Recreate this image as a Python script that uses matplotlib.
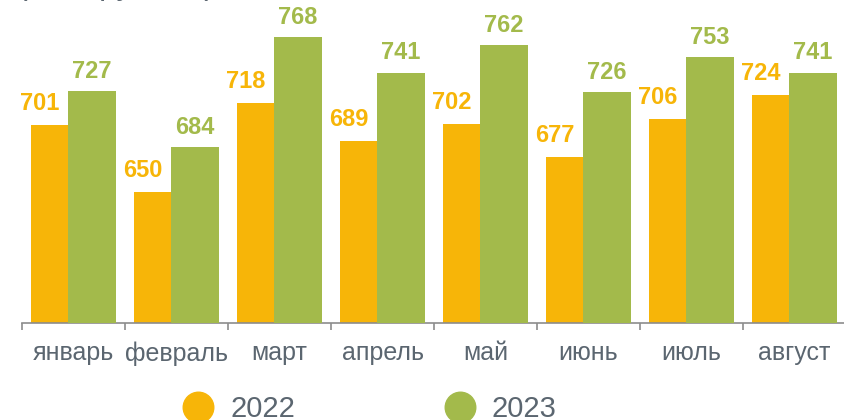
import matplotlib.pyplot as plt
from matplotlib.lines import Line2D
from matplotlib.ticker import FixedLocator
import numpy as np

plt.rcParams["font.family"] = ["Liberation Sans", "DejaVu Sans"]

months = ["январь", "февраль", "март", "апрель", "май", "июнь", "июль", "август"]
values_2022 = [701, 650, 718, 689, 702, 677, 706, 724]
values_2023 = [727, 684, 768, 741, 762, 726, 753, 741]
series_names = ["2022", "2023"]

ORANGE = "#F7B508"
GREEN = "#A3BA4B"
TEXT_GRAY = "#5B6670"
AXIS_GRAY = "#8C8C8C"

W, H = 844, 420
fig = plt.figure(figsize=(W / 100, H / 100), dpi=100)
# axis line sits at y=323 px; left edge of the category axis at x=22 px
ax = fig.add_axes([22 / W, (H - 323) / H, 824 / W, 323 / H])

x = np.arange(len(months))
bar_width = 0.466
offset = 0.18

ax.bar(x - offset, values_2022, width=bar_width, color=ORANGE, zorder=2)
ax.bar(x + offset, values_2023, width=bar_width, color=GREEN, zorder=3)

for xi, v in zip(x, values_2022):
    ax.annotate(str(v), xy=(xi - 0.33, v), xytext=(0, 7), textcoords="offset points",
                ha="center", va="bottom", fontsize=17, fontweight="bold", color=ORANGE)
for xi, v in zip(x, values_2023):
    ax.annotate(str(v), xy=(xi + offset, v), xytext=(0, 6), textcoords="offset points",
                ha="center", va="bottom", fontsize=17, fontweight="bold", color=GREEN)

ax.set_xlim(-0.5, len(months) - 0.5)
ax.set_ylim(550, 550 + 323 / 1.31)

for side in ["top", "right", "left"]:
    ax.spines[side].set_visible(False)
ax.spines["bottom"].set_color(AXIS_GRAY)
ax.spines["bottom"].set_linewidth(1.2)
ax.set_yticks([])

ax.set_xticks(x)
ax.set_xticklabels(months, fontsize=18, color=TEXT_GRAY)
ax.tick_params(axis="x", which="major", length=0, pad=13)
ax.xaxis.set_minor_locator(FixedLocator(np.arange(len(months) + 1) - 0.5))
ax.tick_params(axis="x", which="minor", length=5, width=1.2, color=AXIS_GRAY)

# unit caption, mostly cut off by the top edge in the source image
fig.text(17 / W, 1 + 6 / H, "(тыс. рублей)", fontsize=23, color=TEXT_GRAY,
         ha="left", va="baseline")

handles = [
    Line2D([], [], marker="o", linestyle="none", markersize=22, color=ORANGE),
    Line2D([], [], marker="o", linestyle="none", markersize=22, color=GREEN),
]
fig.legend(handles, series_names, loc="center left", bbox_to_anchor=(166 / W, (H - 409) / H),
           ncol=2, frameon=False, fontsize=21, labelcolor=TEXT_GRAY,
           handletextpad=0.5, columnspacing=5.05, handlelength=1.2, borderpad=0)

fig.savefig("out.png", dpi=100)
